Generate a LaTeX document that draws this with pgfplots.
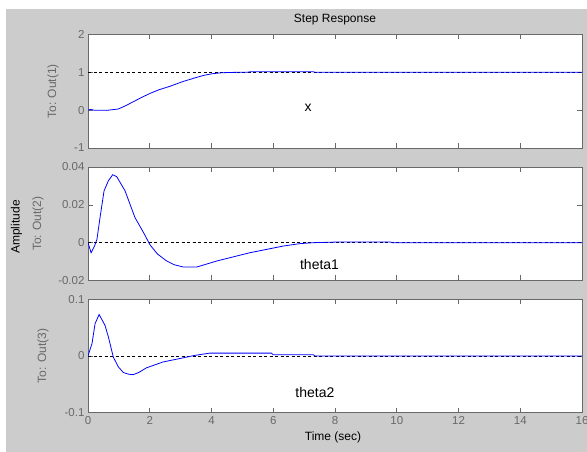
\documentclass[border=0pt]{standalone}
\usepackage{pgfplots}
\pgfplotsset{compat=1.18}
\usepackage{fontspec}
\setmainfont{Liberation Sans}
\definecolor{figbg}{RGB}{204,204,204}
\definecolor{axgray}{RGB}{105,105,105}
\definecolor{mblue}{RGB}{0,0,255}

\pgfplotsset{
  rsp/.style={
    scale only axis, width=494pt, height=113.5pt,
    anchor=south west,
    xmin=0, xmax=16, xtick={0,2,...,16},
    scaled y ticks=false, scaled x ticks=false,
    tick align=inside, tick pos=both,
    major tick length=5pt,
    axis line style={axgray, line width=0.6pt},
    every tick/.style={axgray, line width=0.6pt},
    tick label style={font=\fontsize{11.5}{13}\selectfont, text=axgray},
    /pgf/number format/assume math mode=true,
    ylabel style={font=\fontsize{12}{14}\selectfont, text=axgray, anchor=center},
    axis background/.style={fill=white},
    clip=true,
  },
  refline/.style={black, line width=0.6pt, dash pattern=on 3pt off 2.5pt, forget plot},
  resp/.style={mblue, line width=0.8pt},
}

\begin{document}
\begin{tikzpicture}
\path[use as bounding box] (0pt,0pt) rectangle (587pt,452pt);
\fill[figbg] (6pt,0pt) rectangle (587pt,443pt);

% ---- top: x
\begin{axis}[rsp, at={(88pt,304pt)},
  ymin=-1, ymax=2, ytick={-1,0,1,2}, yticklabels={-1,0,1,2},
  xticklabels={},
  ylabel={To: Out(1)}, ylabel style={at={(axis description cs:-0.071,0.5)}}]
\addplot[refline] coordinates {(0,1) (16,1)};
\addplot[resp] coordinates {
(0,0) (0.08,0.02) (0.2,0) (0.6,-0.005) (0.98,0.03) (1.2,0.11) (1.46,0.22) (1.72,0.33)
(2.0,0.44) (2.3,0.54) (2.65,0.63) (3.05,0.75) (3.45,0.85) (3.75,0.92) (4.04,0.965)
(4.35,0.99) (4.69,0.998) (5.2,1.005) (5.25,1.015) (7.3,1.015) (7.35,1.0) (16,1.0)};
\node[font=\fontsize{14}{16}\selectfont] at (axis cs:7.13,0.05) {x};
\end{axis}

% ---- middle: theta1
\begin{axis}[rsp, at={(88pt,171.5pt)},
  ymin=-0.02, ymax=0.04, ytick={-0.02,0,0.02,0.04}, yticklabels={-0.02,0,0.02,0.04},
  xticklabels={},
  ylabel={To: Out(2)}, ylabel style={at={(axis description cs:-0.101,0.5)}}]
\addplot[refline] coordinates {(0,0) (16,0)};
\addplot[resp] coordinates {
(0,0) (0.1,-0.0053) (0.21,-0.0018) (0.29,0.0018) (0.39,0.0133) (0.52,0.0274)
(0.66,0.0327) (0.80,0.0359) (0.93,0.0349) (1.20,0.0274) (1.52,0.0133) (1.80,0.0053)
(2.01,-0.0012) (2.25,-0.0060) (2.55,-0.0097) (2.8,-0.0117) (3.09,-0.0129) (3.52,-0.0129)
(4.17,-0.0097) (5.25,-0.0053) (6.32,-0.0018) (6.87,-0.0005) (7.3,0) (8.0,0.0003)
(9.8,0.0003) (9.85,0) (16,0)};
\node[font=\fontsize{14}{16}\selectfont] at (axis cs:7.5,-0.0113) {theta1};
\end{axis}

% ---- bottom: theta2
\begin{axis}[rsp, at={(88pt,39.3pt)},
  ymin=-0.1, ymax=0.1, ytick={-0.1,0,0.1}, yticklabels={-0.1,0,0.1},
  xticklabels={0,2,4,6,8,10,12,14,16},
  ylabel={To: Out(3)}, ylabel style={at={(axis description cs:-0.091,0.5)}}]
\addplot[refline] coordinates {(0,0) (16,0)};
\addplot[resp] coordinates {
(0,0) (0.13,0.022) (0.23,0.057) (0.36,0.073) (0.55,0.054) (0.66,0.0335) (0.82,-0.002)
(0.98,-0.019) (1.14,-0.029) (1.3,-0.032) (1.46,-0.033) (1.65,-0.029) (1.89,-0.021)
(2.43,-0.0106) (2.97,-0.0046) (3.46,0.001) (3.95,0.005) (5.94,0.005) (6.0,0.002)
(7.3,0.002) (7.35,0) (16,0)};
\node[font=\fontsize{14}{16}\selectfont] at (axis cs:7.35,-0.064) {theta2};
\end{axis}

\node[font=\fontsize{12}{14}\selectfont] at (335pt,432pt) {Step Response};
\node[font=\fontsize{12}{14}\selectfont] at (333pt,15pt) {Time (sec)};
\node[font=\fontsize{12}{14}\selectfont, rotate=90] at (16.5pt,225pt) {Amplitude};
\end{tikzpicture}
\end{document}
